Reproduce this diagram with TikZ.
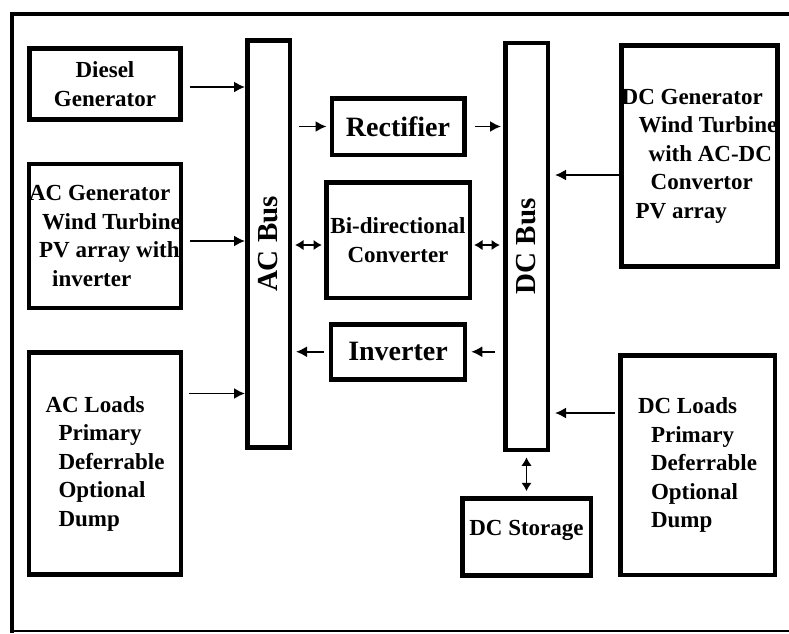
\documentclass[tikz,border=0pt]{standalone}
\usepackage{fontspec}
\setmainfont{Liberation Serif}
\usetikzlibrary{arrows.meta,positioning}

\begin{document}
\begin{tikzpicture}[x=1pt,y=-1pt]
	\tikzstyle{block}
	  =[draw, line width=4.5pt, rectangle, inner sep=0pt, align=left,
	  font=\fontsize{23}{28.5}\selectfont\bfseries]
	\tikzstyle{conv}
	  =[block, align=center, font=\fontsize{28}{30}\selectfont\bfseries]
	\tikzstyle{bus}
	  =[draw, line width=4.5pt, rectangle, inner sep=0pt, rotate=90,
	  minimum width=407pt, minimum height=42.5pt,
	  font=\fontsize{29}{30}\selectfont\bfseries]
	\tikzstyle{arr}
	  =[line width=1.8pt, -{Latex[length=11pt,width=11pt]}]
	\tikzstyle{darr}
	  =[line width=1.8pt, {Latex[length=8.5pt,width=10.5pt]}-{Latex[length=8.5pt,width=10.5pt]}]

	\useasboundingbox (0,0) rectangle (789,633);
	\draw[line width=4pt] (789,14) -- (12,14) -- (12,633);
	\draw[line width=2pt] (12,631) -- (789,631);

	\node[block, align=center, minimum width=151pt, minimum height=71pt] (diesel)
	  at (105,84) {Diesel\\Generator};
	\node[block, minimum width=152pt, minimum height=144pt] (acgen)
	  [below=40pt of diesel] {AC Generator\\\hspace*{13pt}Wind Turbine\\\hspace*{10pt}PV array with\\\hspace*{23pt}inverter};
	\node[block, minimum width=152pt, minimum height=222pt] (acloads)
	  [below=40pt of acgen] {AC Loads\\\hspace*{13pt}Primary\\\hspace*{13pt}Deferrable\\\hspace*{13pt}Optional\\\hspace*{13pt}Dump};

	\node[bus] (acbus)
	  at (268.5,244) {AC Bus};
	\node[bus] (dcbus)
	  at (526.5,246.5) {DC Bus};

	\node[block, align=center, minimum width=143.5pt, minimum height=115.5pt] (bidir)
	  at (398,240) {Bi-directional\\Converter};
	\node[conv, minimum width=132.5pt, minimum height=56.5pt] (rect)
	  [above=23pt of bidir] {Rectifier};
	\node[conv, minimum width=134pt, minimum height=55pt] (inv)
	  [below=22pt of bidir] {Inverter};

	\node[block, minimum width=150.5pt, minimum height=221pt] (dcgen)
	  at (699.5,156) {DC Generator\\\hspace*{17pt}Wind Turbine\\\hspace*{27pt}with AC-DC\\\hspace*{29pt}Convertor\\\hspace*{14pt}PV array};
	\node[block, minimum width=154.5pt, minimum height=219.5pt] (dcloads)
	  at (697.5,465) {DC Loads\\\hspace*{13pt}Primary\\\hspace*{13pt}Deferrable\\\hspace*{13pt}Optional\\\hspace*{13pt}Dump};
	\node[block, align=center, minimum width=128.5pt, minimum height=77pt, text depth=18pt] (storage)
	  [below=44pt of dcbus.west] {DC Storage};

	\draw[arr, shorten <=7pt] ([yshift=-3pt]diesel.east) -- ([yshift=-3pt]diesel.east -| acbus.north);
	\draw[arr, shorten <=7pt] ([yshift=-5pt]acgen.east) -- ([yshift=-5pt]acgen.east -| acbus.north);
	\draw[arr, shorten <=6pt] ([yshift=70pt]acloads.east) -- ([yshift=70pt]acloads.east -| acbus.north);

	\draw[arr, shorten <=7pt, shorten >=3pt] (rect.west -| acbus.south) -- (rect);
	\draw[arr, shorten <=8pt, shorten >=2pt] (rect) -- (rect.east -| dcbus.north);
	\draw[darr, shorten <=3pt, shorten >=2pt] ([yshift=-5pt]bidir.west -| acbus.south) -- ([yshift=-5pt]bidir.west);
	\draw[darr, shorten <=2pt, shorten >=3pt] ([yshift=-5pt]bidir.east) -- ([yshift=-5pt]bidir.east -| dcbus.north);
	\draw[arr, shorten <=8pt, shorten >=4pt] (inv.east -| dcbus.north) -- (inv);
	\draw[arr, shorten <=5pt, shorten >=4pt] (inv) -- (inv.west -| acbus.south);

	\draw[arr, shorten >=5pt] ([yshift=-19pt]dcgen.west) -- ([yshift=-19pt]dcgen.west -| dcbus.south);
	\draw[arr, shorten <=3pt, shorten >=5pt] ([yshift=52pt]dcloads.west) -- ([yshift=52pt]dcloads.west -| dcbus.south);
	\draw[darr, shorten <=5pt, shorten >=5pt] (dcbus.west) -- (storage);
\end{tikzpicture}
\end{document}
